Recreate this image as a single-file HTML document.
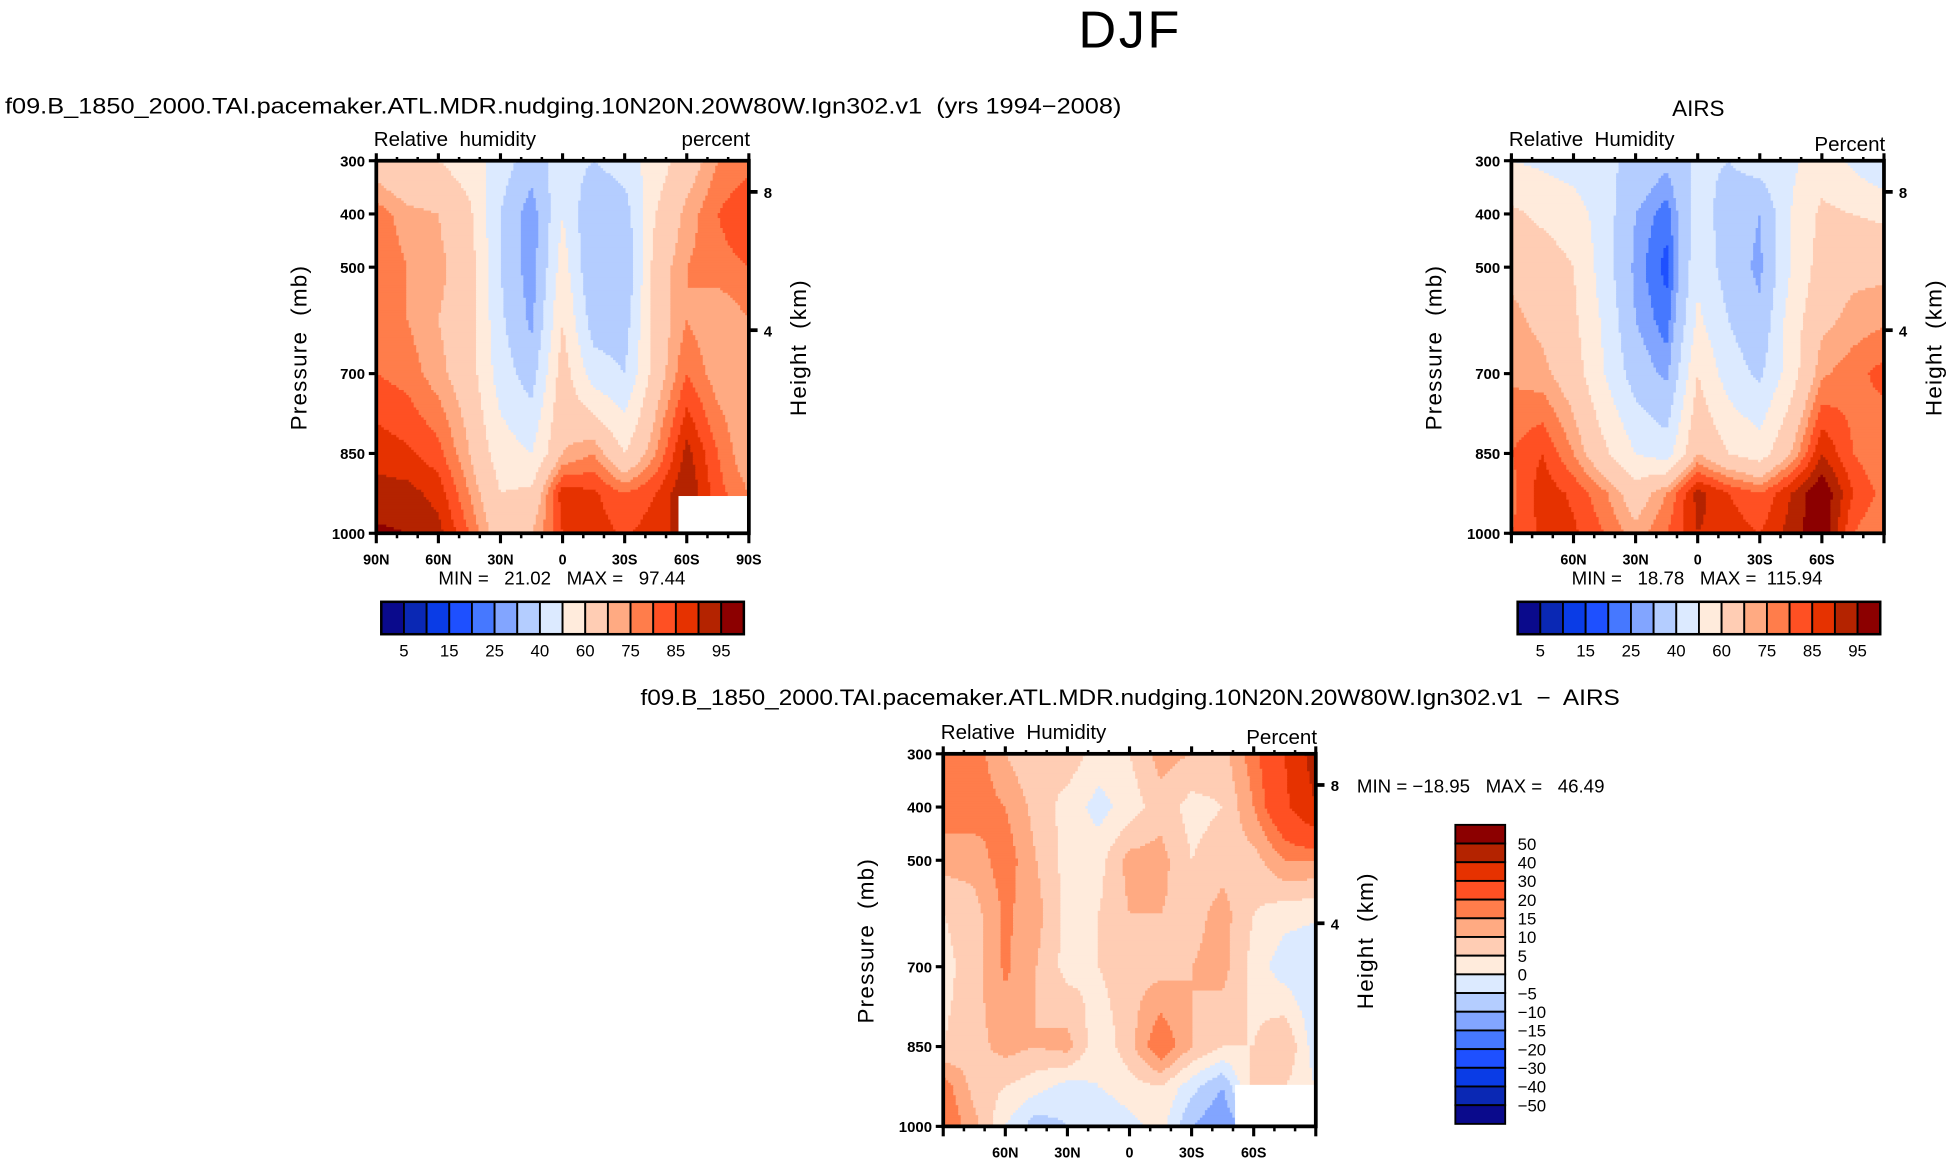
<!DOCTYPE html>
<html><head><meta charset="utf-8"><style>
html,body{margin:0;padding:0;background:#fff;}
svg{display:block;font-family:"Liberation Sans",sans-serif;}
text{white-space:pre;}
</style></head><body>
<svg id="fig" width="1953" height="1163" viewBox="0 0 1567.4 933.4" preserveAspectRatio="none" xmlns="http://www.w3.org/2000/svg">
<text x="907" y="38" font-size="42" text-anchor="middle" fill="#000" style="letter-spacing:2px">DJF</text>
<text x="4" y="91" font-size="17.5" textLength="896" lengthAdjust="spacingAndGlyphs">f09.B_1850_2000.TAI.pacemaker.ATL.MDR.nudging.10N20N.20W80W.Ign302.v1  (yrs 1994−2008)</text>
<text x="1363" y="93" font-size="18" text-anchor="middle">AIRS</text>
<text x="907" y="566" font-size="17.5" text-anchor="middle" textLength="786" lengthAdjust="spacingAndGlyphs">f09.B_1850_2000.TAI.pacemaker.ATL.MDR.nudging.10N20N.20W80W.Ign302.v1  −  AIRS</text>
<g id="p1"></g>
<g id="p2"></g>
<g id="p3"></g>
</svg>
<script>
const lats = [90,75,60,45,30,15,0,-15,-30,-45,-60,-75,-90];
const plevs = [300,400,500,600,700,850,925,1000];
const modelRH = [
 [65,60,60,55,45,35,45,40,45,55,65,75,78],
 [78,72,70,62,40,25,50,30,35,60,72,80,85],
 [80,75,72,65,40,25,55,30,30,65,75,78,80],
 [78,75,70,65,42,28,60,35,35,65,75,70,75],
 [80,78,72,65,45,35,65,45,40,65,80,72,70],
 [88,86,82,70,55,50,70,75,60,75,92,80,70],
 [92,92,88,75,60,62,88,86,80,85,95,82,75],
 [96,95,92,80,65,70,85,88,84,88,92,82,75]];
const airsRH = [
 [50,48,45,42,38,32,42,40,45,48,55,48,40],
 [62,58,55,45,30,22,45,35,30,50,62,60,58],
 [68,65,60,45,28,18,48,35,28,50,65,68,68],
 [72,68,62,48,30,22,52,40,32,55,68,72,74],
 [74,72,65,50,35,28,60,45,38,55,74,78,82],
 [80,85,75,62,50,45,70,60,55,70,90,80,75],
 [78,88,84,76,65,75,92,85,80,90,100,85,78],
 [80,86,86,80,72,80,90,88,85,92,100,80,75]];
const diffRH = [
 [18,18,10,5,8,3,5,12,10,8,18,30,45],
 [18,18,15,8,3,-2,2,8,3,5,15,28,40],
 [12,12,18,10,3,3,12,12,5,8,8,15,15],
 [5,8,16,12,3,5,10,10,8,12,5,2,1],
 [3,8,16,10,3,5,8,8,10,12,3,-3,-5],
 [5,8,12,10,12,1,8,20,10,5,5,10,-3],
 [18,8,5,2,-2,0,3,5,-3,-10,8,5,0],
 [20,12,0,-8,-5,-5,-2,2,-10,-15,-5,5,0]];
const rhLevels = [5,10,15,20,25,30,40,50,60,70,75,80,85,90,95];
const rhLabels = ["5","15","25","40","60","75","85","95"];
const diffLevels = [-50,-40,-30,-20,-15,-10,-5,0,5,10,15,20,30,40,50];
const diffLabels = ["50","40","30","20","15","10","5","0","−5","−10","−15","−20","−30","−40","−50"];
const colors = ["#0a0a8c","#0a28b4","#0a3ce6","#1e50ff","#4678ff","#82a5ff","#b4cdff","#dceaff","#ffebdc","#ffcdb4","#ffaa82","#ff7d4b","#ff5023","#e63200","#b42300","#8c0000"];
const pressTicks = [300,400,500,700,850,1000];

const NS = "http://www.w3.org/2000/svg";
function el(tag, attrs, parent){const e=document.createElementNS(NS,tag);for(const k in attrs)e.setAttribute(k,attrs[k]);if(parent)parent.appendChild(e);return e;}
function txt(parent,x,y,s,size,anchor,extra){const t=el("text",Object.assign({x:x,y:y,"font-size":size,"text-anchor":anchor||"start"},extra||{}),parent);t.textContent=s;return t;}
function levelIndex(v,lv){let i=0;while(i<lv.length&&v>=lv[i])i++;return i;}
function sample(field,lat,p){
  let fi=(90-lat)/15; fi=Math.max(0,Math.min(12,fi));
  let pj=0; while(pj<plevs.length-2&&p>plevs[pj+1])pj++;
  let fj=(p-plevs[pj])/(plevs[pj+1]-plevs[pj]); fj=Math.max(0,Math.min(1,fj));
  const i0=Math.min(11,Math.floor(fi)),a=fi-i0;
  const v00=field[pj][i0],v01=field[pj][i0+1],v10=field[pj+1][i0],v11=field[pj+1][i0+1];
  return (v00*(1-a)+v01*a)*(1-fj)+(v10*(1-a)+v11*a)*fj;
}
function panel(g,x0,y0,field,lv,opt){
  const W=299,H=299;
  const xs=lat=>x0+(90-lat)/180*W;
  const ys=p=>y0+(p-300)/700*H;
  const step=2;
  const cells=el("g",{},g);
  
  
  for(let py=0;py<H;py+=step){
    const p=300+Math.min(H,py+step/2)/H*700;
    let runStart=0,runC=null;
    for(let px=0;;px+=step){
      const end=px>=W;
      let c=null;
      if(!end){const lat=90-Math.min(W,px+step/2)/W*180;c=colors[levelIndex(sample(field,lat,p),lv)];}
      if(c!==runC||end){
        if(runC!==null){el("rect",{x:x0+runStart,y:y0+py,width:Math.min(px,W)-runStart+0.6,height:Math.min(step+0.6,H-py),fill:runC},cells);}
        runStart=px;runC=c;
      }
      if(end)break;
    }
  }
  if(opt.mask){const m=el("rect",{x:xs(opt.mask[0]),y:ys(opt.mask[1]),width:x0+W-xs(opt.mask[0]),height:y0+H-ys(opt.mask[1]),fill:"#fff"},g);}
  const fr=el("rect",{x:x0,y:y0,width:W,height:H,fill:"none",stroke:"#000","stroke-width":3},g);
  
  for(let lat=90;lat>=-90;lat-=10){
    const X=xs(lat),major=(lat%30===0);
    el("line",{x1:X,x2:X,y1:y0,y2:y0-(major?6:3),stroke:"#000","stroke-width":major?2.5:2},g);
    el("line",{x1:X,x2:X,y1:y0+H,y2:y0+H+(major?8:4),stroke:"#000","stroke-width":major?2.5:2},g);
  }
  for(let i=0;i<opt.xlabels.length;i++){
    const t=txt(g,xs(opt.xlabelLats[i]),y0+H+25,opt.xlabels[i],11.5,"middle",{"font-weight":"bold"});
    
  }
  for(const p of pressTicks){
    el("line",{x1:x0-6,x2:x0,y1:ys(p),y2:ys(p),stroke:"#000","stroke-width":2.5},g);
    const t=txt(g,x0-9,ys(p)+4.5,String(p),12,"end",{"font-weight":"bold"});
    
  }
  for(const [h,yy] of [["8",25],["4",136]]){
    el("line",{x1:x0+W,x2:x0+W+7,y1:y0+yy,y2:y0+yy,stroke:"#000","stroke-width":3},g);
    const t=txt(g,x0+W+12,y0+yy+5,h,12,"start",{"font-weight":"bold"});
    
  }
  const yl=txt(g,0,0,"Pressure  (mb)",18,"middle",{transform:`translate(${x0-56},${y0+150}) rotate(-90)`,"letter-spacing":"1"});
  
  const hl=txt(g,0,0,"Height  (km)",18,"middle",{transform:`translate(${x0+W+46},${y0+150}) rotate(-90)`,"letter-spacing":"1"});
  
  const l1=txt(g,x0-2,y0-12,opt.left,16.5,"start");
  
  const l2=txt(g,x0+W+1,y0-opt.rOff,opt.right,16.5,"end");
  
}
function hbar(g,x0,y0){
  const w=291/16;
  for(let i=0;i<16;i++){const r=el("rect",{x:x0+i*w,y:y0,width:w,height:26,fill:colors[i],stroke:"#000","stroke-width":1.5},g);}
  el("rect",{x:x0,y:y0,width:291,height:26,fill:"none",stroke:"#000","stroke-width":2},g);
  for(let k=0;k<rhLabels.length;k++){const t=txt(g,x0+(2*k+1)*w,y0+44,rhLabels[k],13.5,"middle");}
}
function vbar(g,x0,y0){
  const h=240/16;
  for(let i=0;i<16;i++){const r=el("rect",{x:x0,y:y0+i*h,width:40,height:h,fill:colors[15-i],stroke:"#000","stroke-width":1.5},g);}
  for(let k=0;k<diffLabels.length;k++){const t=txt(g,x0+50,y0+(k+1)*h+5,diffLabels[k],13.5,"start");}
}
const g1=document.getElementById("p1"),g2=document.getElementById("p2"),g3=document.getElementById("p3");
panel(g1,302,129,modelRH,rhLevels,{mask:[-56,930],xlabels:["90N","60N","30N","0","30S","60S","90S"],xlabelLats:[90,60,30,0,-30,-60,-90],left:"Relative  humidity",right:"percent",rOff:12});
panel(g2,1213,129,airsRH,rhLevels,{xlabels:["60N","30N","0","30S","60S"],xlabelLats:[60,30,0,-30,-60],left:"Relative  Humidity",right:"Percent",rOff:8});
panel(g3,757,605,diffRH,diffLevels,{mask:[-51,922],xlabels:["60N","30N","0","30S","60S"],xlabelLats:[60,30,0,-30,-60],left:"Relative  Humidity",right:"Percent",rOff:8});
let t;
t=txt(g1,451,469,"MIN =   21.02   MAX =   97.44",15,"middle");
t=txt(g2,1362,469,"MIN =   18.78   MAX =  115.94",15,"middle");
t=txt(g3,1089,636,"MIN = −18.95   MAX =   46.49",15,"start");
const cb1=el("g",{},g1);hbar(cb1,306,483);
const cb2=el("g",{},g2);hbar(cb2,1218,483);
const cb3=el("g",{},g3);vbar(cb3,1168,662);
</script>
</body></html>
